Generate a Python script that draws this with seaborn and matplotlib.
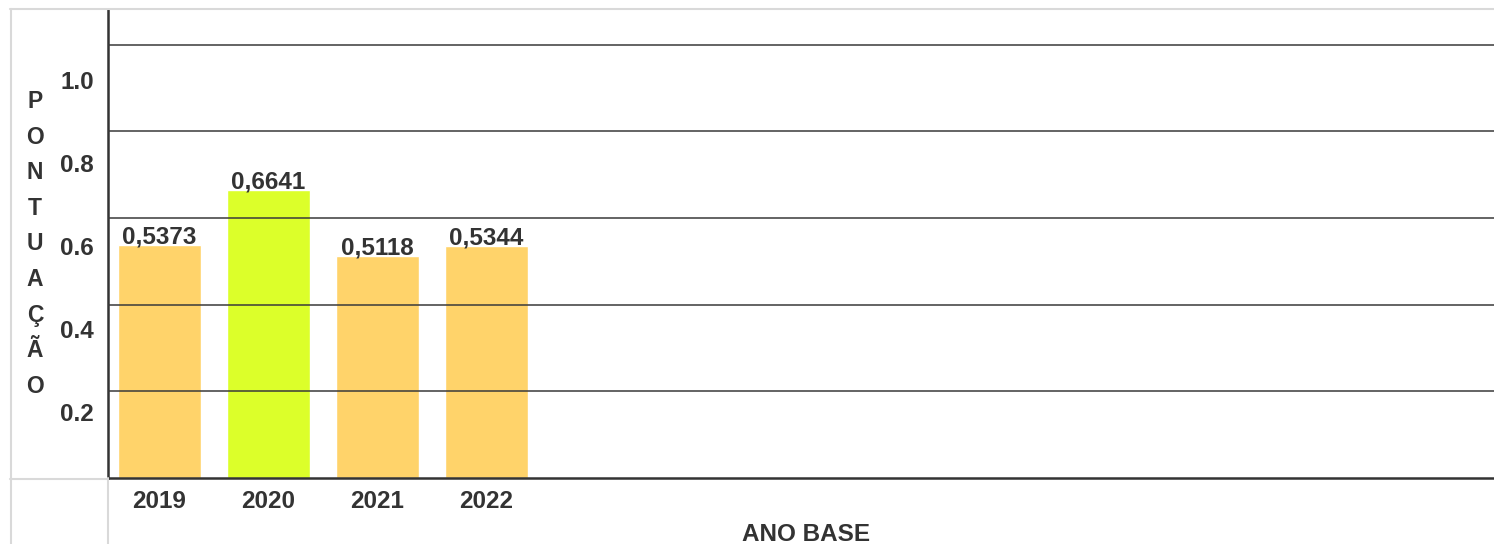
import matplotlib
matplotlib.use('Agg')
import matplotlib.pyplot as plt
from matplotlib.lines import Line2D
import seaborn as sns
import pandas as pd

# dados
anos = ['2019', '2020', '2021', '2022']
pontuacao = [0.5373, 0.6641, 0.5118, 0.5344]
cores = ['#FFD36A', '#DCFF2A', '#FFD36A', '#FFD36A']
grade = [0.2, 0.4, 0.6, 0.8, 1.0]
rotulos_y = ['0.2', '0.4', '0.6', '0.8', '1.0']

df = pd.DataFrame({'ano': anos, 'pontuacao': pontuacao})

sns.set_style('white')
plt.rcParams['font.family'] = ['Liberation Sans', 'DejaVu Sans']
plt.rcParams['font.weight'] = 'bold'
texto = '#333333'
fs = 17.5

fig = plt.figure(figsize=(14.94, 5.44), dpi=100)
ax = fig.add_axes([108 / 1494, 1 - 478 / 544, 1 - 108 / 1494, (478 - 10) / 544])

sns.barplot(data=df, x='ano', y='pontuacao', hue='ano', palette=cores,
            legend=False, width=0.76, saturation=1, ax=ax, zorder=2)

# linhas de grade por cima das barras
for g in grade:
    ax.axhline(g, color='#3a3a3a', lw=1.3, alpha=0.85, zorder=3)

# rótulos de valor
for i, v in enumerate(pontuacao):
    ax.annotate(f'{v:.4f}'.replace('.', ','), (i, v), xytext=(0, 1.5),
                textcoords='offset points', ha='center', va='baseline',
                fontsize=fs, fontweight='bold', color=texto, zorder=4)

ax.set_xlim(-0.4725, 12.243)
ax.set_ylim(0, 1.08)

# os rótulos do eixo y ficam deslocados das linhas, como no original
ax.set_yticks([g * 0.9575 - 0.0385 for g in grade], rotulos_y)
ax.tick_params(axis='y', length=0, pad=10, labelsize=fs, labelcolor=texto)
ax.tick_params(axis='x', length=0, pad=9, labelsize=fs, labelcolor=texto)
for lab in ax.get_xticklabels() + ax.get_yticklabels():
    lab.set_fontweight('bold')

ax.set_xlabel('ANO BASE', fontsize=fs, fontweight='bold', color=texto, va='center')
ax.xaxis.set_label_coords(0.5036, -0.121)
ax.set_ylabel('\n'.join('PONTUAÇÃO'), rotation=0, fontsize=16.5, fontweight='bold',
              color=texto, ha='center', va='center', linespacing=1.7)
ax.yaxis.set_label_coords(-0.0527, 0.50)

for s in ['top', 'right']:
    ax.spines[s].set_visible(False)
for s in ['left', 'bottom']:
    ax.spines[s].set_color('#333333')
    ax.spines[s].set_linewidth(1.8)

# moldura cinza clara da tabela
W, H = 1494, 544
cinza = '#d9d9d9'
fig.add_artist(Line2D([10 / W, 1], [1 - 9 / H, 1 - 9 / H], color=cinza, lw=1.5))
fig.add_artist(Line2D([11 / W, 11 / W], [0, 1 - 9 / H], color=cinza, lw=1.5))
fig.add_artist(Line2D([10 / W, 108 / W], [1 - 479 / H, 1 - 479 / H], color=cinza, lw=1.5))
fig.add_artist(Line2D([108 / W, 108 / W], [0, 1 - 478 / H], color=cinza, lw=1.5))

fig.savefig('out.png', dpi=100)
